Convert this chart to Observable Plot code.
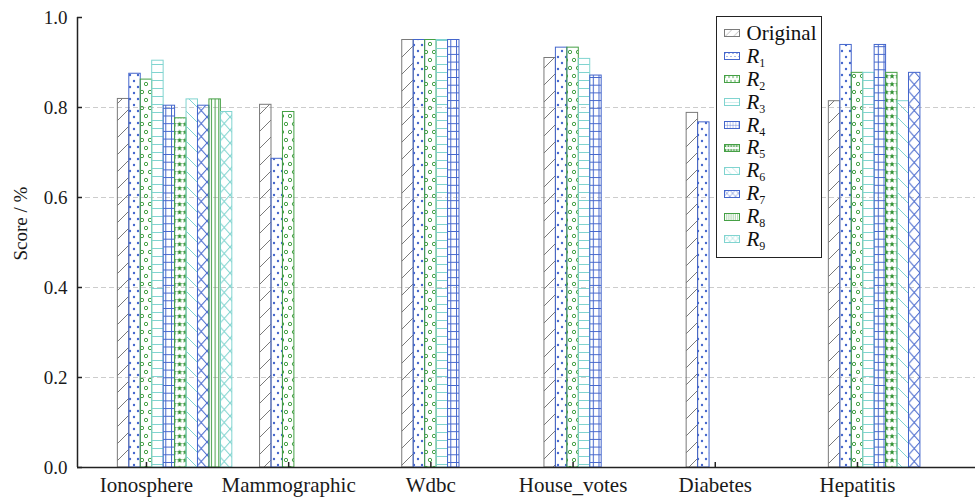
<!DOCTYPE html>
<html><head><meta charset="utf-8">
<script src="https://cdn.jsdelivr.net/npm/d3@7"></script>
<script src="https://cdn.jsdelivr.net/npm/@observablehq/plot@0.6"></script>
<style>
html,body{margin:0;padding:0;background:#fff;}
#wrap{position:relative;width:978px;height:498px;font-family:"Liberation Serif","Times New Roman",serif;}
#legend{position:absolute;left:716px;top:16px;width:104px;height:235px;padding-top:5px;border:1.5px solid #222;background:#fff;}
.row{height:22.9px;display:flex;align-items:center;padding-left:6.5px;font-size:21px;color:#111;line-height:1;}
.row svg{margin-right:7px;flex:none;}
.row i{font-style:italic;}
.row sub{font-size:12px;font-style:normal;position:relative;top:4px;vertical-align:baseline;}
#chart svg text{font-family:"Liberation Serif","Times New Roman",serif;}
</style></head><body>
<div id="wrap">
<svg id="defs" width="0" height="0" style="position:absolute;left:0;top:0"></svg>
<div id="chart"></div>
<div id="legend"></div>
</div>
<script>
// ---- data ----
const categories = ["Ionosphere", "Mammographic", "Wdbc", "House_votes", "Diabetes", "Hepatitis"];
const seriesNames = ["Original", "R1", "R2", "R3", "R4", "R5", "R6", "R7", "R8", "R9"];
const original = [0.819, 0.806, 0.950, 0.910, 0.788, 0.814];
const r1 = [0.875, 0.686, 0.950, 0.933, 0.767, 0.939];
const r2 = [0.862, 0.790, 0.950, 0.933, null, 0.877];
const r3 = [0.904, null, 0.950, 0.908, null, 0.877];
const r4 = [0.804, null, 0.950, 0.871, null, 0.939];
const r5 = [0.776, null, null, null, null, 0.877];
const r6 = [0.818, null, null, null, null, 0.814];
const r7 = [0.804, null, null, null, null, 0.877];
const r8 = [0.818, null, null, null, null, null];
const r9 = [0.790, null, null, null, null, null];
const yTicks = [0, 0.2, 0.4, 0.6, 0.8, 1.0];
const yLabel = "Score / %";

const seriesValues = [original, r1, r2, r3, r4, r5, r6, r7, r8, r9];

// ---- styles ----
const FONT = '"Liberation Serif","Times New Roman",serif';
const GRAY = "#7a7a7a", BLUE = "#4466cc", GREEN = "#45a045", TEAL = "#80d4d0", STAR = "#2e8f2e";
const colors = [GRAY, BLUE, GREEN, TEAL, BLUE, GREEN, TEAL, BLUE, GREEN, TEAL];

function starPath(cx, cy, R, r) {
  let d = "";
  for (let k = 0; k < 10; k++) {
    const a = -Math.PI / 2 + k * Math.PI / 5, rr = k % 2 ? r : R;
    d += (k ? "L" : "M") + (cx + rr * Math.cos(a)).toFixed(2) + "," + (cy + rr * Math.sin(a)).toFixed(2);
  }
  return d + "Z";
}
function pat(id, w, h, body) {
  return `<pattern id="${id}" patternUnits="userSpaceOnUse" width="${w}" height="${h}">${body}</pattern>`;
}
const defs = [
  pat("p0", 17, 17, `<path d="M0,17L17,0M-2,2L2,-2M15,19L19,15" stroke="${GRAY}" stroke-width="1" fill="none"/>`),
  pat("p1", 8, 12, `<circle cx="2" cy="3" r="1.2" fill="${BLUE}"/><circle cx="6" cy="9" r="1.2" fill="${BLUE}"/>`),
  pat("p2", 8, 16, `<circle cx="2" cy="4" r="1.7" fill="none" stroke="${GREEN}" stroke-width="1"/><circle cx="6" cy="12" r="1.7" fill="none" stroke="${GREEN}" stroke-width="1"/>`),
  pat("p3", 8, 8, `<path d="M0,0.5H8" stroke="${TEAL}" stroke-width="1"/>`),
  pat("p4", 5.7, 7.7, `<path d="M0,0.5H5.7M0.5,0V7.7" stroke="${BLUE}" stroke-width="1"/>`),
  pat("p5", 5.7, 8, `<path d="${starPath(2.85, 4.2, 3.0, 1.25)}" fill="${STAR}"/>`),
  pat("p6", 15, 15, `<path d="M0,0L15,15M-2,13L2,17M13,-2L17,2" stroke="${TEAL}" stroke-width="1" fill="none"/>`),
  pat("p7", 11.5, 13, `<path d="M0,0L11.5,13M11.5,0L0,13" stroke="${BLUE}" stroke-width="1" fill="none"/>`),
  pat("p8", 3.7, 4, `<path d="M0.5,0V4" stroke="${GREEN}" stroke-width="1"/>`),
  pat("p9", 11.5, 13, `<path d="M0,0L11.5,13M11.5,0L0,13" stroke="${TEAL}" stroke-width="1" fill="none"/>`)
];
document.getElementById("defs").innerHTML = `<defs>${defs.join("")}</defs>`;

// ---- rows ----
const rows = [];
seriesValues.forEach((vals, si) => vals.forEach((v, ci) => { if (v != null) rows.push({ci, si, v}); }));

const barW = 0.0805;          // bar width in category units
const xDomain = [-0.485, 5.83];

const chart = Plot.plot({
  width: 978, height: 498,
  marginLeft: 77, marginRight: 3, marginTop: 17, marginBottom: 31,
  style: {fontFamily: FONT, color: "#1a1a1a", background: "transparent"},
  x: {domain: xDomain},
  y: {domain: [0, 1]},
  marks: [
    Plot.gridY(yTicks.filter(t => t > 0 && t < 1), {stroke: "#cccccc", strokeOpacity: 1, strokeDasharray: "5,3"}),
    ...seriesNames.map((s, si) => Plot.rect(rows.filter(r => r.si === si), {
      x1: r => r.ci + (si - 2.5) * barW,
      x2: r => r.ci + (si - 1.5) * barW,
      y1: 0, y2: "v",
      fill: `url(#p${si})`, stroke: colors[si], strokeWidth: 1
    })),
    Plot.ruleY([0], {stroke: "#222", strokeWidth: 1.5}),
    Plot.ruleX([xDomain[0]], {stroke: "#222", strokeWidth: 1.5}),
    Plot.axisX(d3.range(categories.length), {tickFormat: i => categories[i], tickSize: -5, tickPadding: 15, fontSize: 21, fontFamily: FONT, label: null, stroke: "#222", strokeWidth: 1.5}),
    Plot.axisY(yTicks, {tickFormat: d3.format(".1f"), tickSize: -5, tickPadding: 15, fontSize: 19, fontFamily: FONT, label: null, stroke: "#222", strokeWidth: 1.5}),
    Plot.text([yLabel], {frameAnchor: "left", rotate: -90, dx: -64, dy: 18, lineAnchor: "top", fontSize: 19, fontFamily: FONT, fill: "#1a1a1a"})
  ]
});
document.getElementById("chart").appendChild(chart);

// ---- legend ----
const legend = document.getElementById("legend");
seriesNames.forEach((s, si) => {
  const row = document.createElement("div");
  row.className = "row";
  const k = 0.5;
  const label = s === "Original" ? s : `<i>${s[0]}</i><sub>${s.slice(1)}</sub>`;
  row.innerHTML = `<svg width="16" height="8"><g transform="scale(${k})"><rect x="${0.5 / k}" y="${0.5 / k}" width="${15 / k}" height="${7 / k}" fill="url(#p${si})" stroke="${colors[si]}" stroke-width="${1 / k}"/></g></svg><span>${label}</span>`;
  legend.appendChild(row);
});
</script>
</body></html>
